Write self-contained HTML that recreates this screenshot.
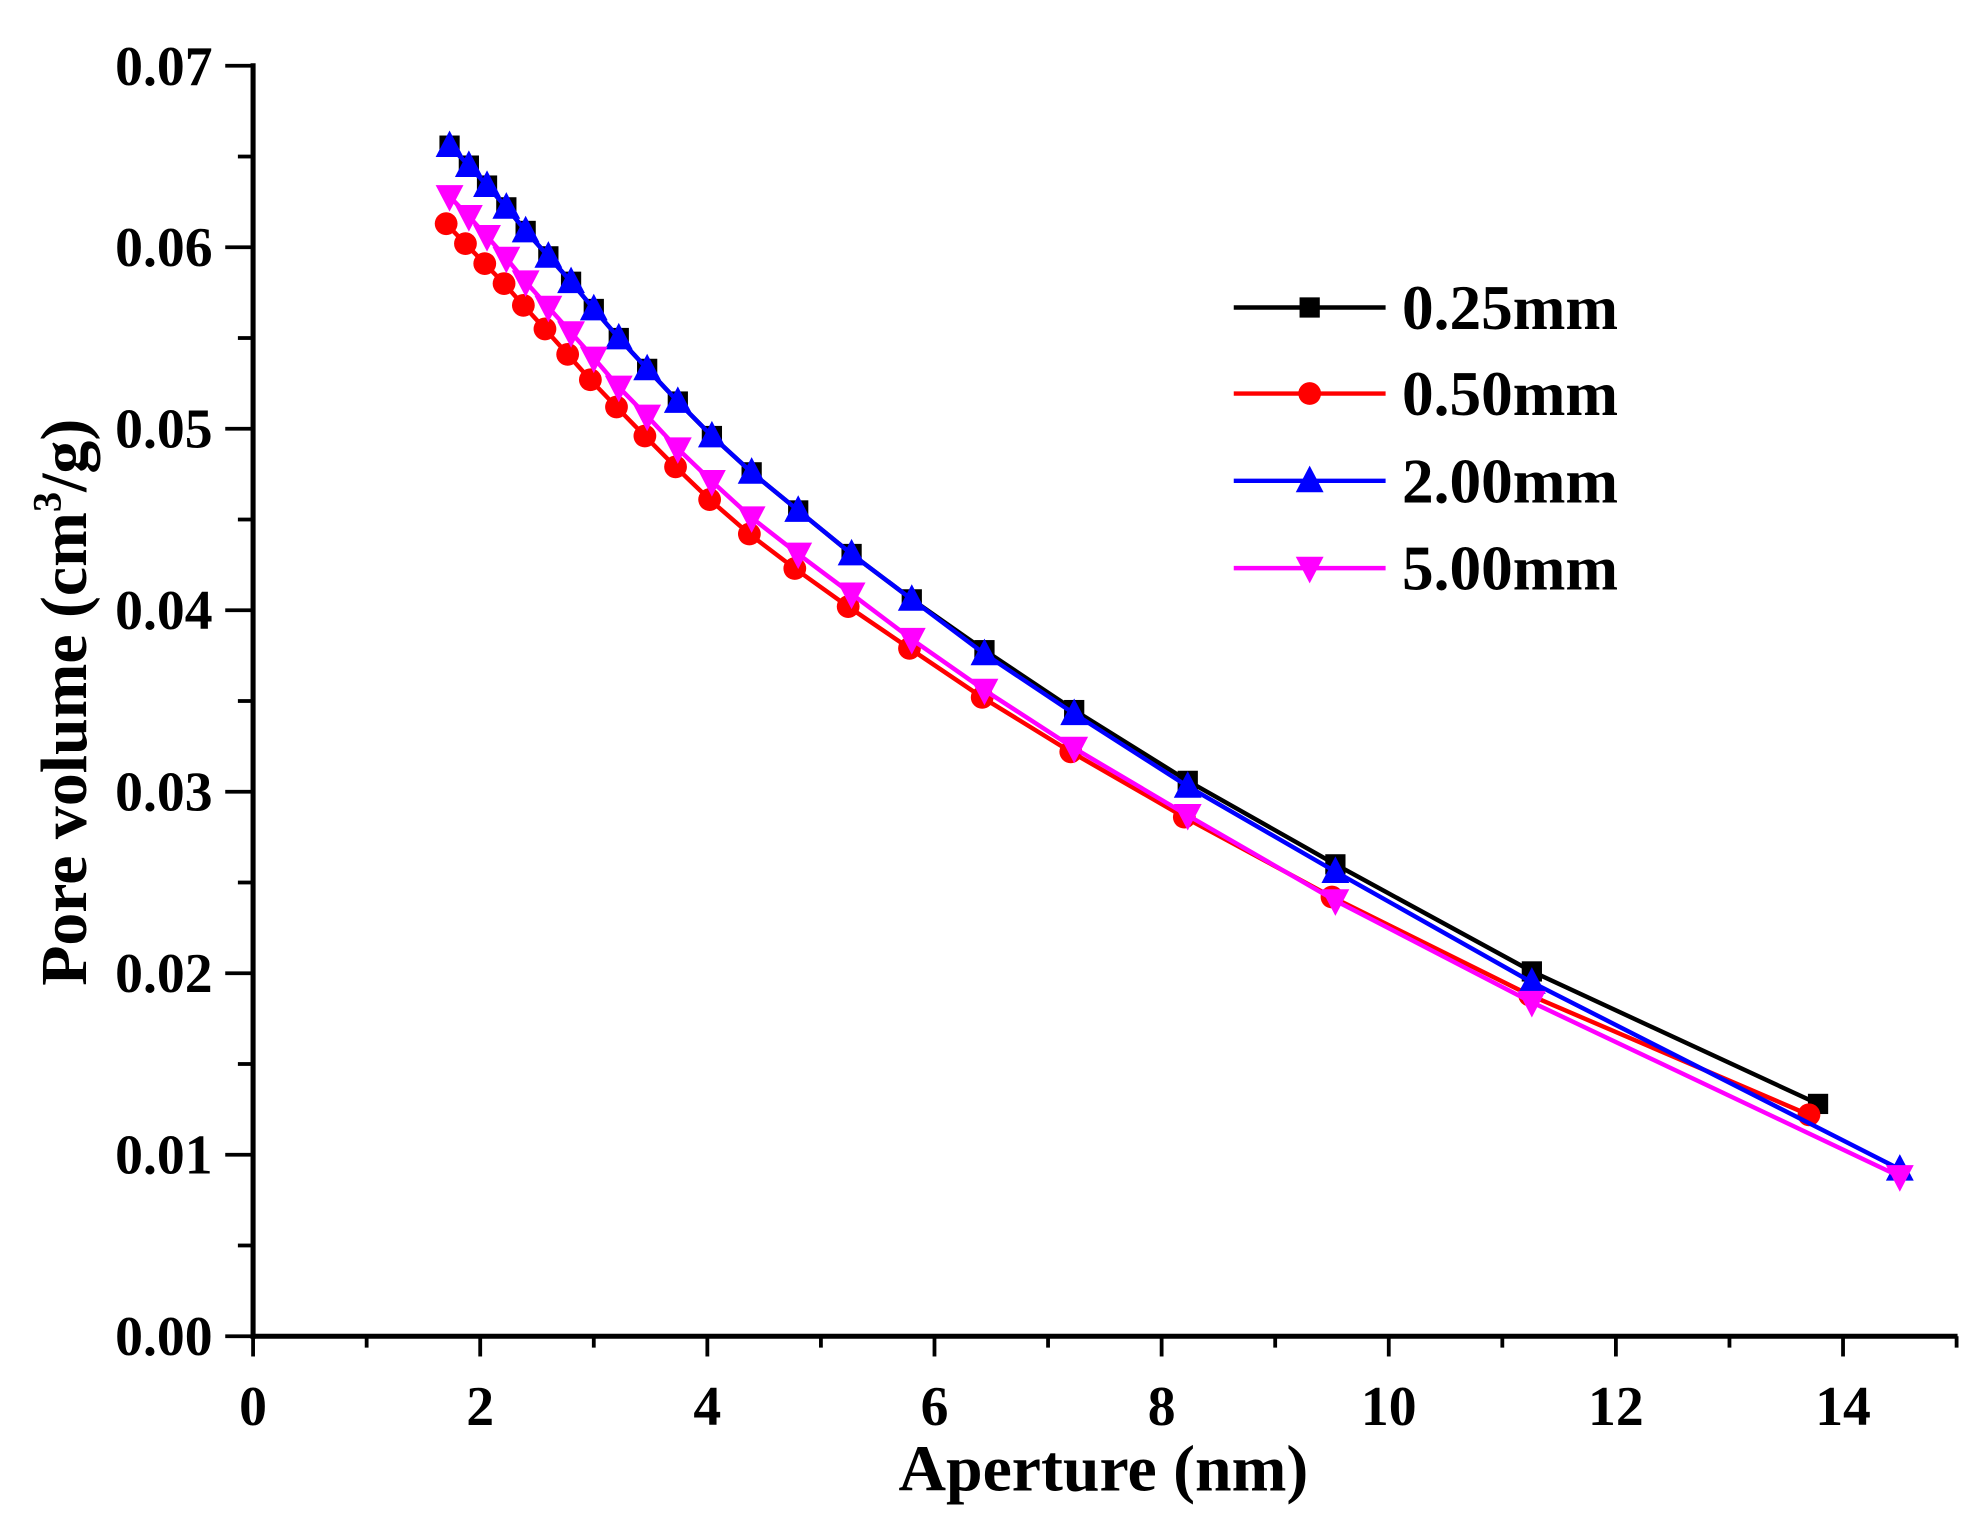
<!DOCTYPE html>
<html><head><meta charset="utf-8"><style>html,body{margin:0;padding:0;background:#fff}svg{display:block}</style></head>
<body>
<svg id="s" width="1974" height="1523" viewBox="0 0 1560 1203.6" preserveAspectRatio="none" xmlns="http://www.w3.org/2000/svg" font-family="'Liberation Serif',serif" font-weight="bold">
<g stroke="#000" stroke-width="4" fill="none">
<line x1="200" y1="50" x2="200" y2="1058"/>
<line x1="198" y1="1056" x2="1547" y2="1056"/>
</g>
<g id="ticks" stroke="#000" stroke-width="3"></g>
<g id="lbl" font-size="44" fill="#000"></g>
<text x="872" y="1178" font-size="52" text-anchor="middle">Aperture (nm)</text>
<text transform="translate(68,555) rotate(-90)" font-size="52" text-anchor="middle">Pore volume (cm<tspan font-size="32" dy="-20">3</tspan><tspan dy="20">/g)</tspan></text>
<g id="data"></g>
<g id="leg" font-size="50"></g>
</svg>
<script>
var NS="http://www.w3.org/2000/svg";
function X(v){return 200+v*89.75}function Y(v){return 1056-v*14343}
function el(p,t,a,txt){var e=document.createElementNS(NS,t);for(var k in a)e.setAttribute(k,a[k]);if(txt!=null)e.textContent=txt;document.getElementById(p).appendChild(e);return e}
for(var i=0;i<=15;i++){var L=i%2==0?16:9;el('ticks','line',{x1:X(i),y1:1056,x2:X(i),y2:1056+L});if(i%2==0)el('lbl','text',{x:X(i),y:1126,'text-anchor':'middle'},i)}
for(var i=0;i<=14;i++){var v=i*0.005,L=i%2==0?22:12;el('ticks','line',{x1:200-L,y1:Y(v),x2:200,y2:Y(v)});if(i%2==0)el('lbl','text',{x:168,y:Y(v)+15,'text-anchor':'end'},(v).toFixed(2))}
var xb=[1.73,1.9,2.06,2.23,2.4,2.6,2.8,3.0,3.22,3.47,3.74,4.04,4.39,4.8,5.27,5.8,6.44,7.23,8.23,9.53,11.26];
var S=[
{c:'#000',m:'sq',x:xb.concat([13.78]),y:[0.0656,0.0645,0.0634,0.0622,0.0609,0.0595,0.0581,0.0566,0.055,0.0533,0.0515,0.0496,0.0476,0.0455,0.0431,0.0406,0.0378,0.0345,0.0306,0.026,0.0201,0.0128]},
{c:'#f00',m:'ci',x:[1.7,1.87,2.04,2.21,2.38,2.57,2.77,2.97,3.2,3.45,3.72,4.02,4.37,4.77,5.24,5.78,6.42,7.2,8.2,9.5,11.24,13.7],y:[0.0613,0.0602,0.0591,0.058,0.0568,0.0555,0.0541,0.0527,0.0512,0.0496,0.0479,0.0461,0.0442,0.0423,0.0402,0.0379,0.0352,0.0322,0.0286,0.0242,0.0188,0.0122]},
{c:'#00f',m:'up',x:xb.concat([14.5]),y:[0.0656,0.0645,0.0634,0.0622,0.0609,0.0595,0.0581,0.0566,0.055,0.0533,0.0515,0.0496,0.0476,0.0455,0.0431,0.0406,0.0376,0.0343,0.0303,0.0256,0.0195,0.0092]},
{c:'#f0f',m:'dn',x:xb.concat([14.5]),y:[0.0628,0.0617,0.0606,0.0594,0.0581,0.0567,0.0553,0.0539,0.0523,0.0507,0.0489,0.0471,0.0451,0.0431,0.0409,0.0384,0.0356,0.0324,0.0287,0.024,0.0184,0.0088]}];
function mk(g,m,x,y,c){
 if(m=='sq')el(g,'rect',{x:x-8,y:y-8,width:16,height:16,fill:c});
 else if(m=='ci')el(g,'circle',{cx:x,cy:y,r:9,fill:c});
 else if(m=='up')el(g,'polygon',{points:(x-11)+','+(y+9)+' '+(x+11)+','+(y+9)+' '+x+','+(y-12),fill:c});
 else el(g,'polygon',{points:(x-11)+','+(y-9)+' '+(x+11)+','+(y-9)+' '+x+','+(y+12),fill:c});
}
S.forEach(function(s){var p=s.x.map(function(v,i){return X(v)+','+Y(s.y[i])}).join(' ');
 el('data','polyline',{points:p,fill:'none',stroke:s.c,'stroke-width':3.5});
 s.x.forEach(function(v,i){mk('data',s.m,X(v),Y(s.y[i]),s.c)});});
var names=['0.25mm','0.50mm','2.00mm','5.00mm'],ly=[243,311,380,449];
S.forEach(function(s,i){el('leg','line',{x1:975,y1:ly[i],x2:1095,y2:ly[i],stroke:s.c,'stroke-width':3.5});mk('leg',s.m,1035,ly[i],s.c);el('leg','text',{x:1108,y:ly[i]+17},names[i])});
</script>
</body></html>
